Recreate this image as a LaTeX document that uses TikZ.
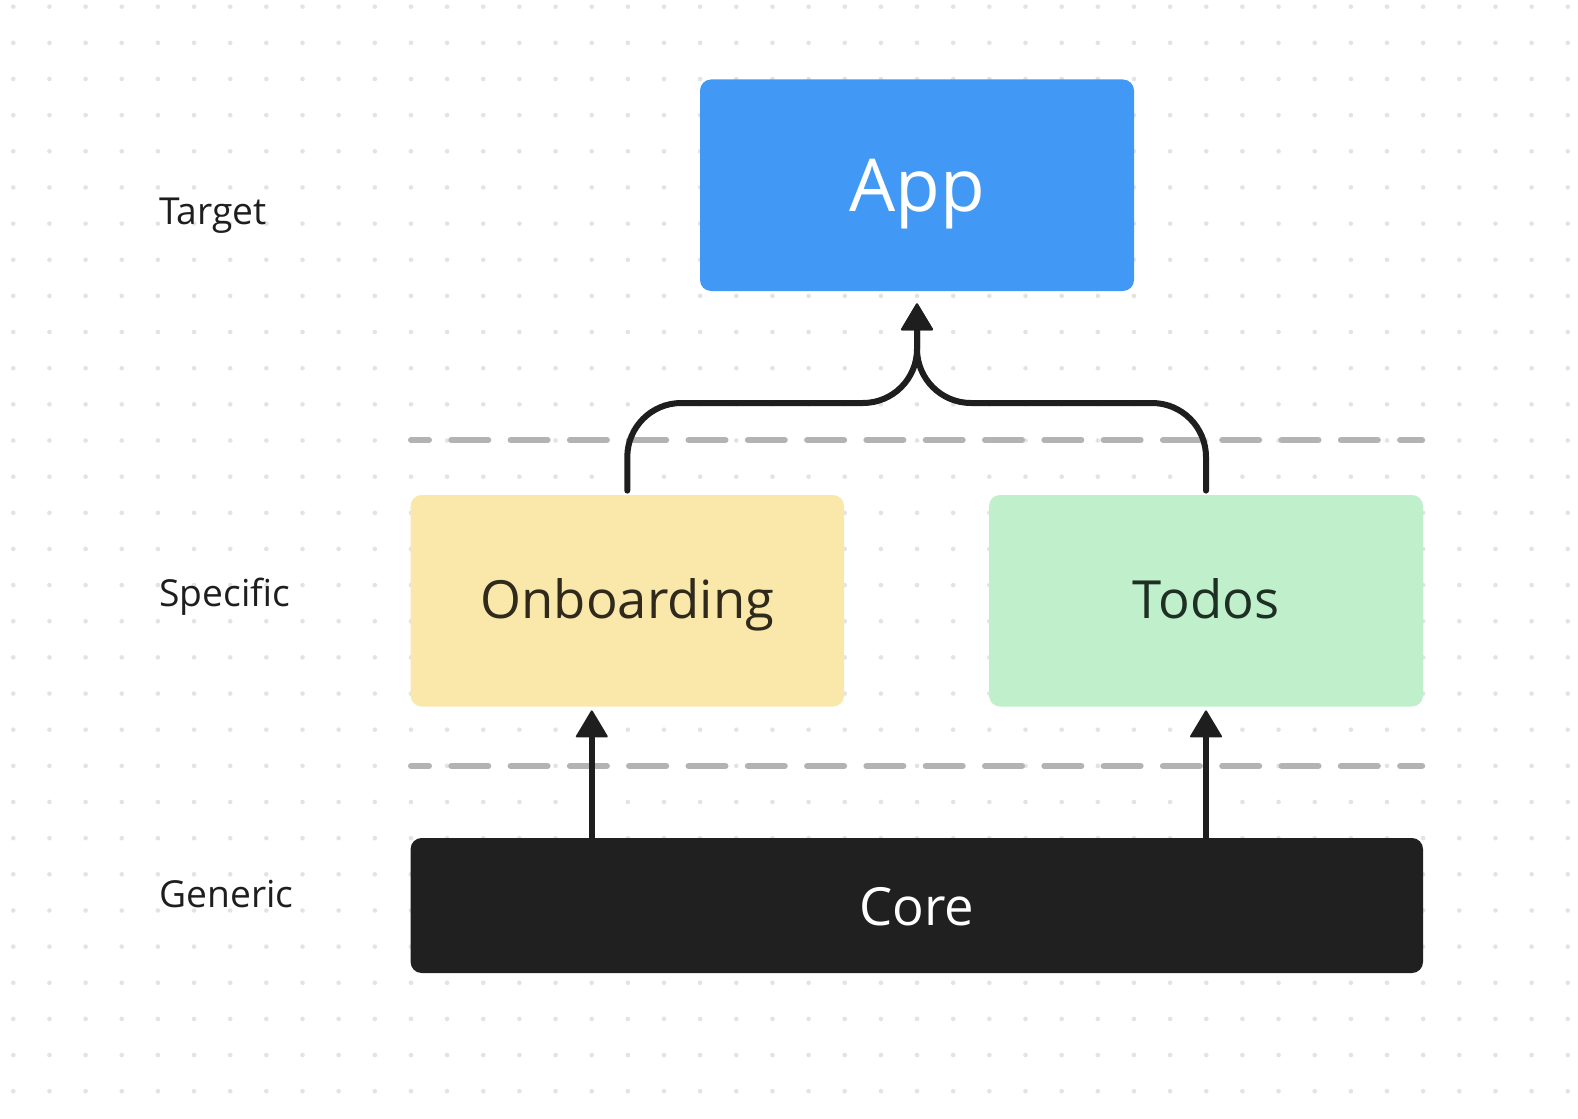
\documentclass[tikz,border=0pt]{standalone}
\usepackage{fontspec}
\setmainfont{Open Sans}
\usetikzlibrary{arrows.meta}

\definecolor{appblue}{HTML}{4299F5}
\definecolor{onbyellow}{HTML}{FAE8AB}
\definecolor{todogreen}{HTML}{BFF0CB}
\definecolor{coreblack}{HTML}{202020}
\definecolor{ink}{HTML}{1E1E1E}
\definecolor{dotgrey}{HTML}{E3E3E3}
\definecolor{lanegrey}{HTML}{B3B3B3}
\definecolor{onbtext}{HTML}{2F2A1C}
\definecolor{todotext}{HTML}{1E2F23}

\begin{document}
\begin{tikzpicture}[x=0.5pt, y=-0.5pt,
    box/.style={rounded corners=5.5pt, inner sep=0pt, text depth=0pt},
    tier/.style={anchor=base west, inner sep=0pt, font=\fontsize{18.6}{18.6}\selectfont, text=ink},
    link/.style={draw=ink, line width=3pt, line cap=round, -{Triangle[length=14pt, width=16.5pt, round, line width=1pt]}},
    lane/.style={draw=lanegrey, line width=3pt, line cap=round, dash pattern=on 18.5pt off 11.15pt, dash phase=9.5pt}]

    \fill[white] (0, 0) rectangle (1578, 1118);
    \useasboundingbox (0, 0) rectangle (1578, 1118);
    \foreach \i in {0, ..., 43}
        \foreach \j in {0, ..., 30}
            \fill[dotgrey] (13.3 + 36.15*\i, 6.7 + 36.15*\j) circle (1.15pt);

    \draw[lane] (411, 440) -- (1422, 440);
    \draw[lane] (411, 766) -- (1422, 766);

    \node[box, fill=appblue, text=white, minimum width=217pt, minimum height=105.75pt, text height=26.5pt, font=\fontsize{36.5}{36.5}\selectfont] (app) at (917, 185.25) {App};
    \node[box, fill=onbyellow, text=onbtext, minimum width=216.7pt, minimum height=105.75pt, text height=17.6pt, font=\fontsize{26.3}{26.3}\selectfont] (onb) at (627.3, 600.75) {Onboarding};
    \node[box, fill=todogreen, text=todotext, minimum width=217pt, minimum height=105.75pt, text height=17.6pt, font=\fontsize{26.3}{26.3}\selectfont] (todo) at (1206, 600.75) {Todos};
    \node[box, fill=coreblack, text=white, minimum width=506.2pt, minimum height=67.5pt, text height=19.5pt, font=\fontsize{26.3}{26.3}\selectfont] (core) at (916.8, 905.5) {Core};

    \node[tier] (target) at (159, 224.3) {Target};
    \node[tier] (specific) at (159, 606.7) {Specific};
    \node[tier] (generic) at (159, 907.3) {Generic};

    \coordinate (bus) at (917, 403);
    \draw[link, rounded corners=27pt, shorten >=6pt] ([yshift=2pt]onb.north) |- (bus) -- (app.south);
    \draw[link, rounded corners=27pt, shorten >=6pt] ([yshift=2pt]todo.north) |- (bus) -- (app.south);

    \coordinate (feed) at ([xshift=-162.5pt]core.north);
    \draw[link, shorten >=1.75pt] (feed) -- (feed |- onb.south);
    \draw[link, shorten >=1.75pt] (core.north -| todo.north) -- (todo.south);
\end{tikzpicture}
\end{document}
